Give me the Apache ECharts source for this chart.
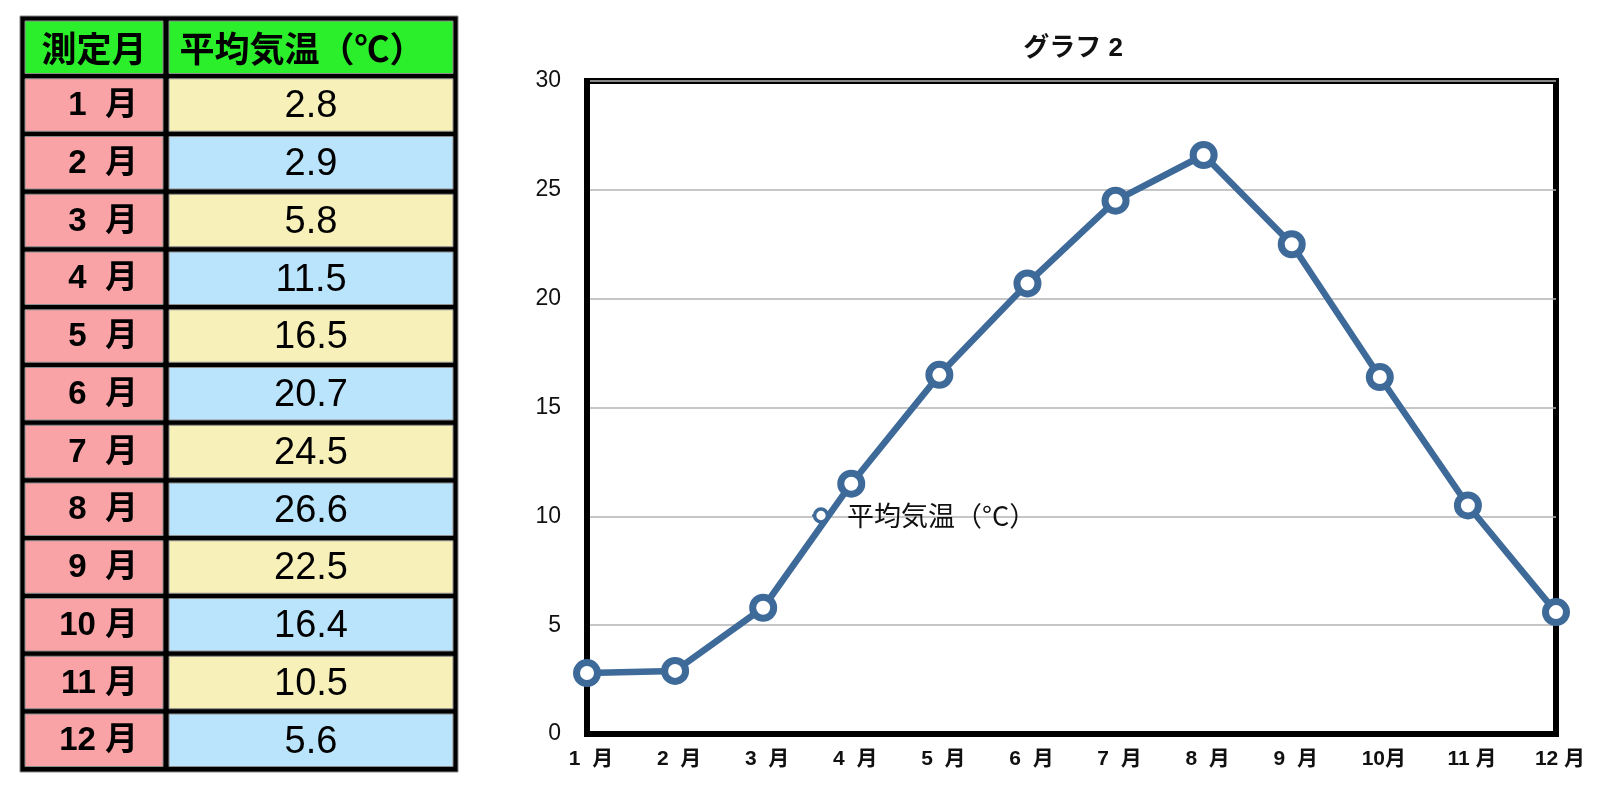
<!DOCTYPE html>
<html>
<head>
<meta charset="utf-8">
<script src="https://cdn.jsdelivr.net/npm/echarts@6/dist/echarts.min.js"></script>
<style>
  html, body { margin: 0; padding: 0; background: #fff; }
  #main { width: 1600px; height: 787px; }
</style>
</head>
<body>
<div id="main"></div>
<script>
// data
const months = ['1  月', '2  月', '3  月', '4  月', '5  月', '6  月', '7  月', '8  月', '9  月', '10月', '11 月', '12 月']
const tableMonths = ['1  月', '2  月', '3  月', '4  月', '5  月', '6  月', '7  月', '8  月', '9  月', '10 月', '11 月', '12 月']
const temps = [2.8, 2.9, 5.8, 11.5, 16.5, 20.7, 24.5, 26.6, 22.5, 16.4, 10.5, 5.6]
const headers = ['測定月', '平均気温（℃）']
const seriesName = '平均気温（°C）'
const yTicks = [0, 5, 10, 15, 20, 25, 30]

const jp = '"Noto Sans CJK JP", sans-serif'
const mix = '"Liberation Sans", "Noto Sans CJK JP", sans-serif'
const blue = '#3d6a99'

// table built as graphic elements
const tableX = 20, tableY = 16, tableW = 438, tableH = 756
const col1X = 25, col1W = 138, col2X = 169, col2W = 284
const rowTop = 21, rowPitch = 57.75, rowH = 52.5
const graphics = [
  { type: 'rect', shape: { x: tableX, y: tableY, width: tableW, height: tableH },
    style: { fill: '#000', stroke: '#888', lineWidth: 1 } }
]
function cell(x, y, w, h, fill) {
  graphics.push({ type: 'rect', shape: { x: x, y: y, width: w, height: h },
    style: { fill: fill, stroke: '#8c8c8c', lineWidth: 1 } })
}
function label(x, y, text, font, size, weight, align) {
  graphics.push({ type: 'text', x: x, y: y,
    style: { text: text, fontFamily: font, fontSize: size, fontWeight: weight,
      fill: '#000', align: align, verticalAlign: 'middle' } })
}
cell(col1X, rowTop, col1W, rowH, '#2bef2b')
cell(col2X, rowTop, col2W, rowH, '#2bef2b')
label(col1X + col1W / 2, rowTop + rowH / 2 + 1, headers[0], jp, 35, 'bold', 'center')
label(col2X + col2W / 2 - 9, rowTop + rowH / 2 + 1, headers[1], jp, 35, 'bold', 'center')
tableMonths.forEach((m, i) => {
  const y = rowTop + rowPitch * (i + 1)
  cell(col1X, y, col1W, rowH, '#f9a3a7')
  cell(col2X, y, col2W, rowH, i % 2 === 0 ? '#f7f0b9' : '#b9e4fc')
  label(col1X + 113, y + rowH / 2 + 1, m, mix, 33, 'bold', 'right')
  label(col2X + col2W / 2, y + rowH / 2 + 2, temps[i].toFixed(1), mix, 38, 'normal', 'center')
})

const chart = echarts.init(document.getElementById('main'))
chart.setOption({
  animation: false,
  title: {
    text: 'グラフ 2',
    left: 1068,
    top: 31,
    textAlign: 'center',
    textStyle: { fontFamily: mix, fontSize: 26, fontWeight: 'bold', color: '#111' }
  },
  legend: {
    data: [seriesName],
    left: 806,
    top: 497,
    itemWidth: 18,
    itemHeight: 16,
    itemStyle: { borderWidth: 3.5 },
    textStyle: { fontFamily: jp, fontSize: 27, color: '#111', padding: [0, 0, 0, 12] }
  },
  grid: {
    left: 587,
    right: 44,
    top: 81,
    bottom: 53,
    show: true,
    borderColor: '#000',
    borderWidth: 6
  },
  xAxis: {
    type: 'category',
    data: months,
    boundaryGap: false,
    axisLine: { show: true, lineStyle: { color: '#000', width: 6 } },
    axisTick: { show: false },
    splitLine: { show: false },
    axisLabel: { margin: 15, padding: [0, 0, 0, 8], fontFamily: mix, fontSize: 21, fontWeight: 'bold', color: '#111' }
  },
  yAxis: {
    type: 'value',
    min: yTicks[0],
    max: yTicks[yTicks.length - 1],
    interval: 5,
    axisLine: { show: true, lineStyle: { color: '#000', width: 6 } },
    axisTick: { show: false },
    splitLine: { show: true, lineStyle: { color: '#b3b3b3', width: 1.5 } },
    axisLabel: { margin: 26, fontFamily: mix, fontSize: 23, color: '#111' }
  },
  series: [
    {
      name: seriesName,
      type: 'line',
      data: temps,
      symbol: 'circle',
      symbolSize: 21,
      lineStyle: { color: blue, width: 6.5 },
      itemStyle: { color: '#fff', borderColor: blue, borderWidth: 7 }
    }
  ],
  graphic: graphics
})
</script>
</body>
</html>
